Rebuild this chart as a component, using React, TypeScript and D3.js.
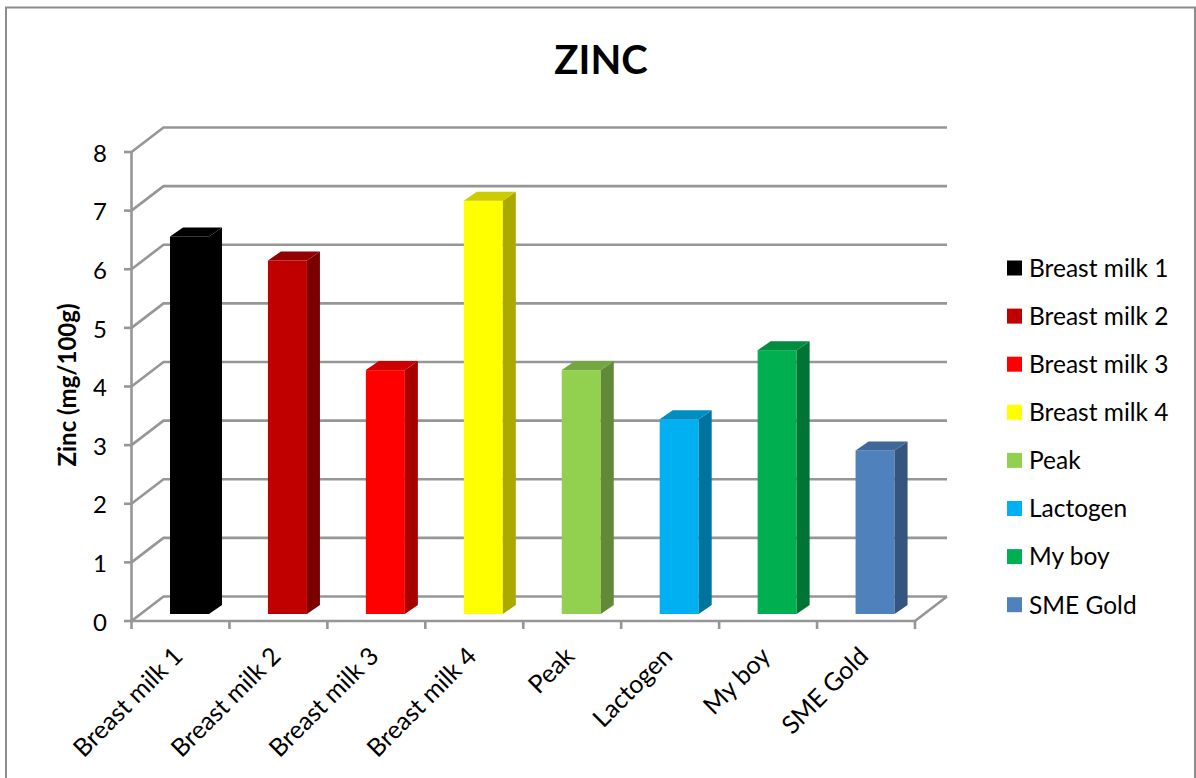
import React from "react";
import * as d3 from "d3";

const categories = ["Breast milk 1", "Breast milk 2", "Breast milk 3", "Breast milk 4", "Peak", "Lactogen", "My boy", "SME Gold"];
const values = [6.44, 6.03, 4.16, 7.05, 4.16, 3.32, 4.5, 2.79];
const frontColors = ["#000000", "#c00000", "#ff0000", "#ffff00", "#92d050", "#00b0f0", "#00b050", "#4f81bd"];
const sideColors = ["#000000", "#7a0000", "#a80000", "#a9a900", "#608a35", "#00749f", "#007435", "#345580"];
const topColors = ["#000000", "#930000", "#cc0000", "#cccc00", "#75a640", "#008dc0", "#008d40", "#3f6797"];
const yTicks = [0, 1, 2, 3, 4, 5, 6, 7, 8];

const FONT = "Lato, 'Open Sans', sans-serif";
const GRID = "#969696";

export default function App() {
  const y = d3.scaleLinear().domain([0, 8]).range([621, 152]);
  const x = d3.scaleBand<string>().domain(categories).range([131.5, 915]);
  const depthX = 32;
  const depthY = -24.5;
  const barDx = 13;
  const barDy = -9;
  const barOffsetX = 38.5;
  const barW = 39;
  const barBase = 614;
  const h = (v: number) => y(0) - y(v);
  const right = x.range()[1];
  const sw = 2.6;

  return (
    <svg width={1196} height={778} style={{ position: "absolute", left: 0, top: 0, display: "block", background: "#fff" }} fontFamily={FONT}>
      <rect x={6} y={7.5} width={1189} height={790} fill="#fff" stroke="#8c8c8c" strokeWidth={2} />
      <text x={601} y={74} textAnchor="middle" fontSize={40} fontWeight={700} fill="#000">ZINC</text>

      {yTicks.map((t) => (
        <g key={t}>
          <polyline
            points={`${x.range()[0]},${y(t)} ${x.range()[0] + depthX},${y(t) + depthY} ${right + depthX},${y(t) + depthY}`}
            fill="none" stroke={GRID} strokeWidth={sw}
          />
          <line x1={124} x2={131.5} y1={y(t)} y2={y(t)} stroke={GRID} strokeWidth={sw} />
          <text x={107} y={y(t) + 1} dy="0.36em" textAnchor="end" fontSize={24} fill="#000">{t}</text>
        </g>
      ))}
      <line x1={x.range()[0]} x2={x.range()[0]} y1={y(8)} y2={y(0) + 8} stroke={GRID} strokeWidth={sw} />
      <line x1={x.range()[0]} x2={right} y1={y(0)} y2={y(0)} stroke={GRID} strokeWidth={sw} />
      <line x1={right} x2={right + depthX} y1={y(0)} y2={y(0) + depthY} stroke={GRID} strokeWidth={sw} />
      {categories.map((c) => (
        <line key={c} x1={(x(c) as number) + x.bandwidth()} x2={(x(c) as number) + x.bandwidth()} y1={y(0)} y2={y(0) + 8} stroke={GRID} strokeWidth={sw} />
      ))}

      {categories.map((c, i) => {
        const left = (x(c) as number) + barOffsetX;
        const rgt = left + barW;
        const top = barBase - h(values[i]);
        return (
          <g key={c}>
            <rect x={left} y={top} width={barW} height={barBase - top} fill={frontColors[i]} />
            <polygon points={`${rgt},${top} ${rgt + barDx},${top + barDy} ${rgt + barDx},${barBase + barDy} ${rgt},${barBase}`} fill={sideColors[i]} />
            <polygon points={`${left},${top} ${left + barDx},${top + barDy} ${rgt + barDx},${top + barDy} ${rgt},${top}`} fill={topColors[i]} />
          </g>
        );
      })}

      {categories.map((c) => {
        const cx = (x(c) as number) + x.bandwidth() / 2 - 5;
        return (
          <text key={c} transform={`translate(${cx},${649}) rotate(-45)`} textAnchor="end" dominantBaseline="hanging" fontSize={25} fill="#000" dy="-0.3em">{c}</text>
        );
      })}

      <text transform="translate(76,385) rotate(-90)" textAnchor="middle" fontSize={24} fontWeight={700} fill="#000">Zinc (mg/100g)</text>

      {categories.map((c, i) => {
        const ly = 268 + i * 48.1;
        return (
          <g key={c}>
            <rect x={1007} y={ly - 7.5} width={15} height={15} fill={frontColors[i]} />
            <text x={1029} y={ly} dy="0.36em" fontSize={24.5} fill="#000">{c}</text>
          </g>
        );
      })}
    </svg>
  );
}
